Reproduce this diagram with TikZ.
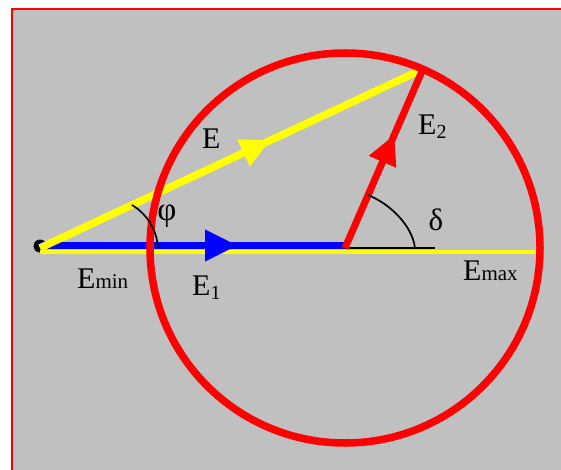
\documentclass[tikz,border=0pt]{standalone}
\usepackage{fontspec}
\setmainfont{Liberation Serif}
\usetikzlibrary{decorations.markings}
\definecolor{bggray}{HTML}{C0C0C0}
\definecolor{vred}{HTML}{FF0000}
\definecolor{vyellow}{HTML}{FFFF00}
\definecolor{vblue}{HTML}{0000FF}
\tikzset{
  lbl/.style={inner sep=0pt, font=\fontsize{30}{30}\selectfont},
  arrowmark/.style args={#1/#2/#3/#4}{postaction={decorate},
    decoration={markings, mark=at position #1 with {\fill[#2] (0pt,0pt) -- (-#3pt,#4pt) -- (-#3pt,-#4pt) -- cycle;}}},
  anglearc/.style={black, line width=1.7pt},
}
\newcommand{\subsz}{\fontsize{20}{20}\selectfont}
\begin{document}
\begin{tikzpicture}[x=1pt,y=-1pt]
\useasboundingbox (0,0) rectangle (561,470);
\clip (0,0) rectangle (561,470);
\fill[white] (0,0) rectangle (561,470);
\fill[bggray] (12,9) rectangle (600,500);
\draw[vred, line width=2.5pt] (12,500) -- (12,9) -- (600,9);
% points
\coordinate (O) at (40,248);
\coordinate (C) at (345,248);
\coordinate (P) at (423,69);
\coordinate (Ob) at (40,245.5);
\coordinate (Cb) at (345,245.5);
\coordinate (Oy) at (40,251.5);
\coordinate (Ry) at (541,251.5);
\coordinate (Dk) at (435,248);
% origin dot
\fill[black] (40,246) circle (6.5pt);
% yellow base line
\draw[vyellow, line width=4pt] (Oy) -- (Ry);
% E1 (blue)
\draw[vblue, line width=7pt, arrowmark={0.646/vblue/32/16}] (Ob) -- (Cb);
% E (yellow)
\draw[vyellow, line width=7.5pt, arrowmark={0.60/vyellow/29/15}] (O) -- (P);
% delta reference line
\draw[black, line width=2pt] (C) -- (Dk);
% circle
\draw[vred, line width=7.5pt] (C) circle (195pt);
% E2 (red)
\draw[vred, line width=7pt, arrowmark={0.63/vred/29/15}] (C) -- (P);
% angle arcs
\draw[anglearc] (132,205) .. controls (147,214) and (157,230) .. (158,248);
\draw[anglearc] (368,195) .. controls (390,204) and (412,225) .. (415,248);
% labels
\node[lbl, anchor=base west] (lE) at (202,149) {E};
\node[lbl, anchor=base west] (lEmin) at (77,288) {E{\fontsize{21}{21}\selectfont min}};
\node[lbl, anchor=base west] (lE1) at (192,295) {E\raisebox{-4pt}{\subsz 1}};
\node[lbl, anchor=base west] (lE2) at (418,135) {E\raisebox{-4pt}{\subsz 2}};
\node[lbl, anchor=base west] (lEmax) at (463,280) {E{\fontsize{21}{21}\selectfont max}};
\node[lbl, font=\fontsize{33}{33}\selectfont] (lphi) at (167,216) {φ};
\node[lbl, font=\fontsize{31}{31}\selectfont] (ldelta) at (436,220) {δ};
\end{tikzpicture}
\end{document}
